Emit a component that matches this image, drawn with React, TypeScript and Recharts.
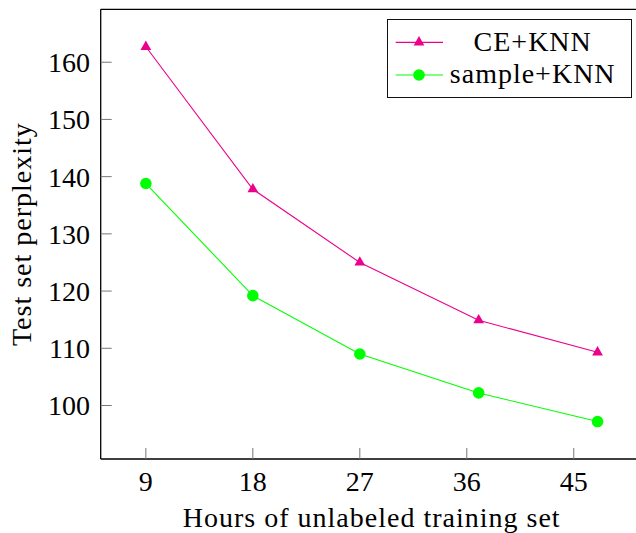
import { LineChart, Line, XAxis, YAxis, Legend } from "recharts";

const hours = [9, 18, 27, 37, 47];
const ceKnn = [162.7, 137.8, 125.0, 114.9, 109.3];
const sampleKnn = [138.8, 119.2, 109.0, 102.2, 97.2];
const xTicks = [9, 18, 27, 36, 45];
const yTicks = [100, 110, 120, 130, 140, 150, 160];

const MAGENTA = "#EC008C";
const GREEN = "#00FF00";
const FONT = "'Liberation Serif', 'DejaVu Serif', serif";
const FS = 28;

// pgfplots style: axis limits are the data range enlarged by 10%
function enlarge(vals: number[]): [number, number] {
  const lo = Math.min(...vals);
  const hi = Math.max(...vals);
  const pad = (hi - lo) * 0.1;
  return [lo - pad, hi + pad];
}
const xDomain = enlarge(hours);
const yDomain = enlarge([...ceKnn, ...sampleKnn]);

const rows = hours.map((h, i) => ({ hours: h, ce: ceKnn[i], sample: sampleKnn[i] }));

function triPoints(cx: number, cy: number, r: number) {
  const h = r * Math.sin(Math.PI / 3);
  return `${cx},${cy - r} ${cx - h},${cy + r / 2} ${cx + h},${cy + r / 2}`;
}

function TriangleDot(props: any) {
  const { cx, cy, index } = props;
  if (cx == null || cy == null) return <g key={index} />;
  return <polygon key={index} points={triPoints(cx, cy, 6.2)} fill={MAGENTA} />;
}

function LegendBox(props: any) {
  const payload = props.payload || [];
  return (
    <div
      style={{
        width: 244.4,
        height: 79.3,
        border: "1px solid #111",
        boxSizing: "border-box",
        background: "#fff",
      }}
    >
      <svg width={242.4} height={77.3} style={{ display: "block" }}>
        {payload.map((p: any, i: number) => {
          const y = 22.3 + i * 32.7;
          const color = p.color;
          return (
            <g key={p.value}>
              <line x1={7.7} x2={55} y1={y} y2={y} stroke={color} strokeWidth={1.2} />
              {p.dataKey === "ce" ? (
                <polygon points={triPoints(31, y, 6.2)} fill={color} />
              ) : (
                <circle cx={31} cy={y} r={5.8} fill={color} />
              )}
              <text
                x={144.7}
                y={y + 8.4}
                textAnchor="middle"
                fontFamily={FONT}
                fontSize={FS}
                letterSpacing={1}
                fill="#000"
              >
                {p.value}
              </text>
            </g>
          );
        })}
      </svg>
    </div>
  );
}

function YLabel(props: any) {
  const vb = props.viewBox || { x: 0, y: 0, width: 0, height: 0 };
  const x = vb.x + 31;
  const y = vb.y + vb.height / 2;
  return (
    <text
      x={x}
      y={y}
      transform={`rotate(-90, ${x}, ${y})`}
      textAnchor="middle"
      fontFamily={FONT}
      fontSize={FS}
      letterSpacing={1}
      fill="#000"
    >
      Test set perplexity
    </text>
  );
}

const tickStyle = { fill: "#000", fontSize: FS, fontFamily: FONT };
const tickLine = { stroke: "#777", strokeWidth: 1 };
const axisLine = { stroke: "#000", strokeWidth: 1.3 };

export default function App() {
  return (
    <div
      style={{
        position: "fixed",
        left: 0,
        top: 0,
        width: 636,
        height: 533,
        overflow: "hidden",
        background: "#fff",
        fontFamily: FONT,
      }}
    >
      <LineChart
        width={660}
        height={533}
        data={rows}
        margin={{ top: 0, right: 16.3, bottom: 0, left: 0 }}
      >
        <XAxis
          dataKey="hours"
          type="number"
          domain={xDomain}
          ticks={xTicks}
          height={74}
          tickSize={-11}
          tickMargin={23}
          tickLine={tickLine}
          axisLine={axisLine}
          tick={tickStyle}
          label={{
            value: "Hours of unlabeled training set",
            position: "insideBottom",
            offset: 6,
            style: { fill: "#000", fontSize: FS, fontFamily: FONT, letterSpacing: 1 },
          }}
        />
        <XAxis
          xAxisId="top"
          orientation="top"
          dataKey="hours"
          type="number"
          domain={xDomain}
          ticks={xTicks}
          height={9.3}
          tickSize={-11}
          tickLine={tickLine}
          axisLine={axisLine}
          tick={false}
        />
        <YAxis
          type="number"
          domain={yDomain}
          ticks={yTicks}
          width={100.7}
          tickSize={-11}
          tickMargin={21.7}
          tickLine={tickLine}
          axisLine={axisLine}
          tick={tickStyle}
          label={YLabel}
        />
        <YAxis
          yAxisId="right"
          orientation="right"
          type="number"
          domain={yDomain}
          ticks={yTicks}
          width={1}
          tickSize={-11}
          tickLine={tickLine}
          axisLine={axisLine}
          tick={false}
        />
        <Legend
          layout="horizontal"
          verticalAlign="middle"
          align="center"
          wrapperStyle={{ position: "absolute", top: 19, left: 387.3, width: 244.4, height: 79.3 }}
          content={LegendBox}
        />
        <Line
          dataKey="ce"
          name="CE+KNN"
          stroke={MAGENTA}
          strokeWidth={1.1}
          dot={TriangleDot}
          activeDot={false}
          isAnimationActive={false}
        />
        <Line
          dataKey="sample"
          name="sample+KNN"
          stroke={GREEN}
          strokeWidth={1.1}
          dot={{ r: 5.8, fill: GREEN, stroke: "none" }}
          activeDot={false}
          isAnimationActive={false}
        />
      </LineChart>
    </div>
  );
}
